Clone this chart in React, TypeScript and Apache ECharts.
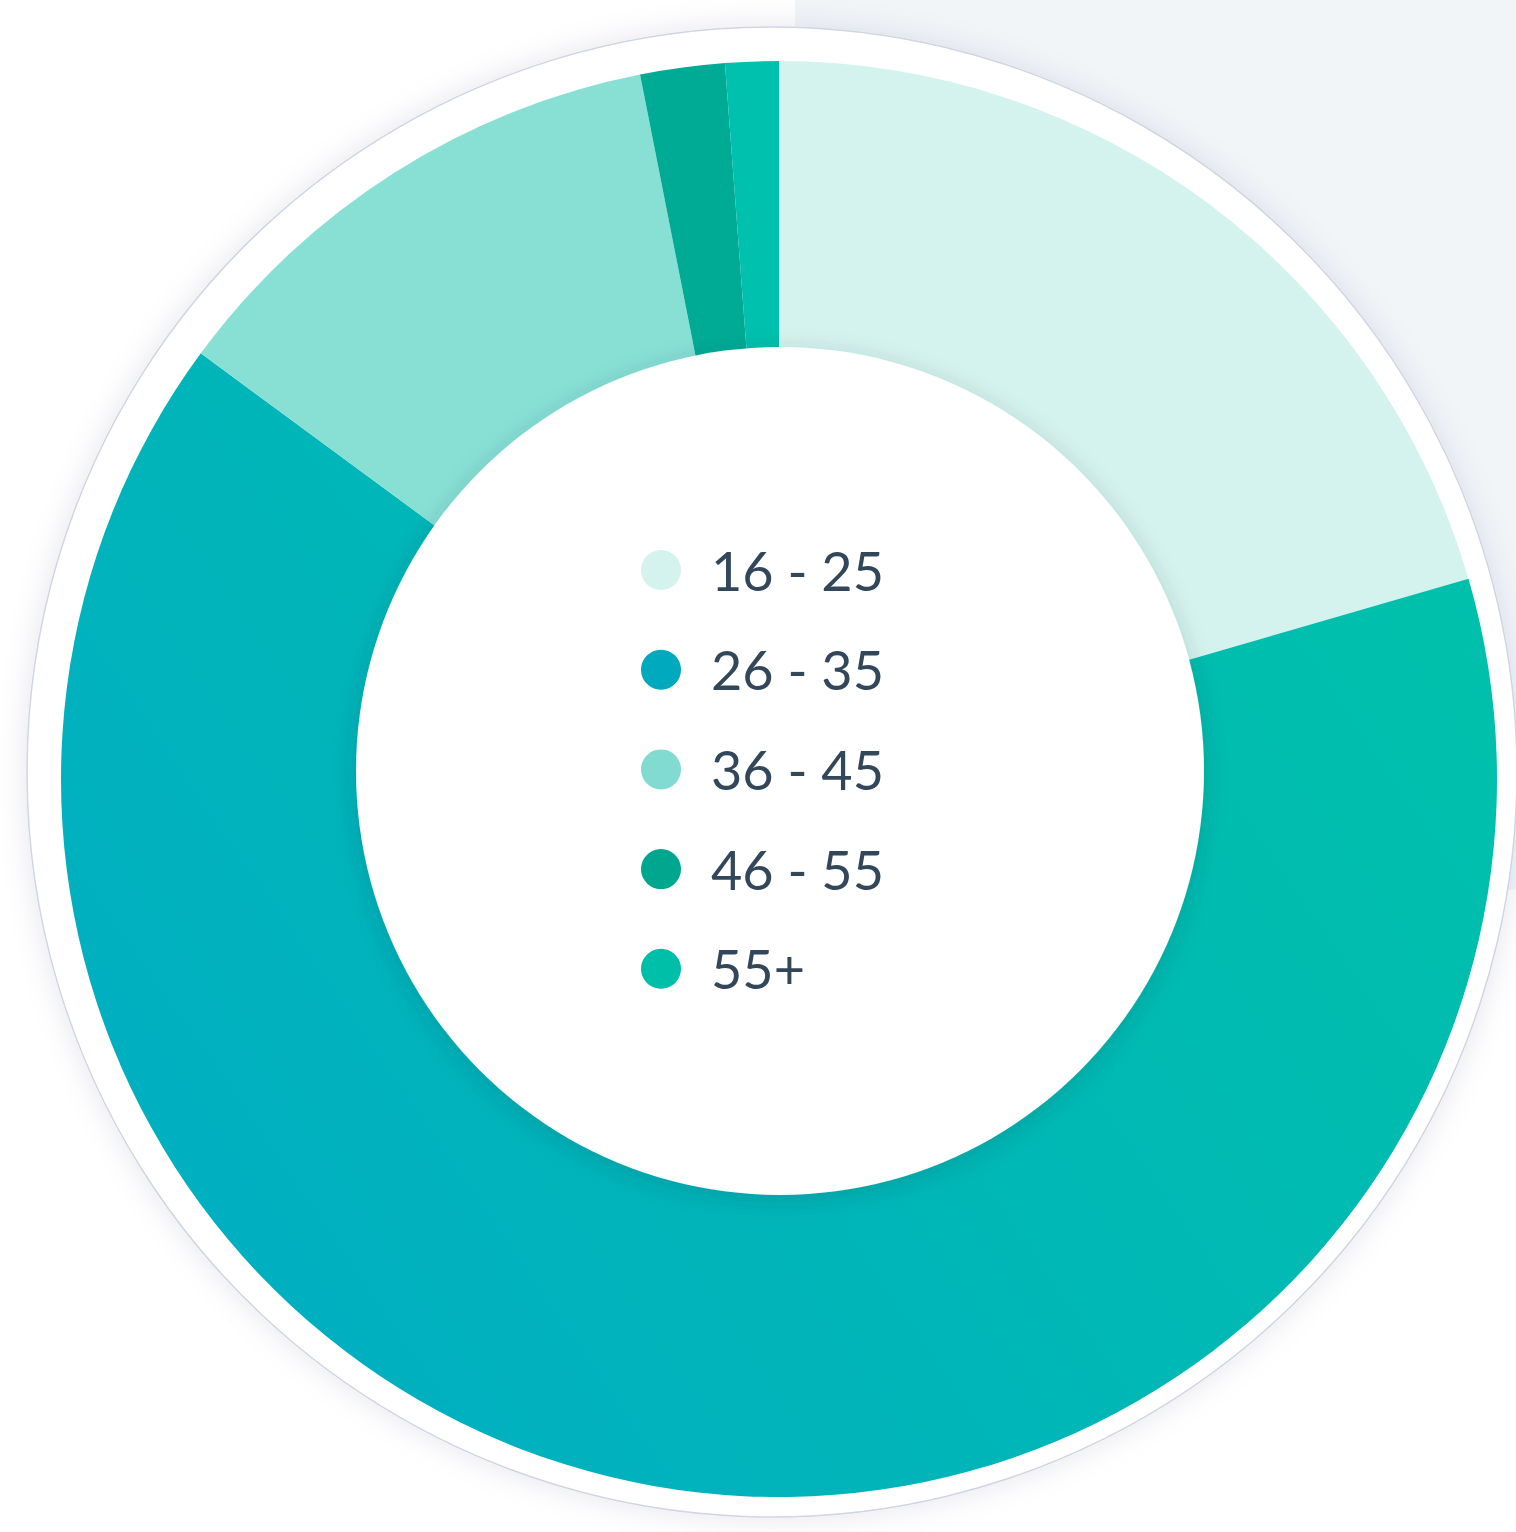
import React, { useEffect, useRef } from "react";
import * as echarts from "echarts";

const categories = ["16 - 25", "26 - 35", "36 - 45", "46 - 55", "55+"];
const shares = [20.5, 64.6, 11.8, 1.9, 1.2];
const sliceColors = ["#d5f3ee", "GRADIENT", "#88e0d5", "#00ab95", "#00c1ad"];
const legendColors = ["#d5f3ee", "#00a9bd", "#82dbd1", "#00a78f", "#00bfa8"];

export default function App() {
  const ref = useRef<HTMLDivElement>(null);
  useEffect(() => {
    if (!ref.current) return;
    const chart = echarts.init(ref.current, undefined, { renderer: "svg" });
    const grad = new echarts.graphic.LinearGradient(1, 0.3, 0, 0.85, [
      { offset: 0, color: "#00c0ab" },
      { offset: 1, color: "#00adc3" },
    ]);
    chart.setOption({
      animation: false,
      backgroundColor: "#ffffff",
      graphic: [
        {
          type: "rect",
          z: 0,
          shape: { x: 795, y: 0, width: 721, height: 890 },
          style: { fill: "#f2f5f8" },
        },
        {
          type: "circle",
          z: 1,
          shape: { cx: 772, cy: 772, r: 745 },
          style: {
            fill: "#ffffff",
            stroke: "#cfd6e2",
            lineWidth: 1.5,
            shadowBlur: 30,
            shadowColor: "rgba(40,60,90,0.10)",
          },
        },
        {
          type: "circle",
          z: 5,
          shape: { cx: 780, cy: 771, r: 424 },
          style: {
            fill: "#ffffff",
            shadowBlur: 22,
            shadowOffsetY: 4,
            shadowColor: "rgba(30,50,70,0.20)",
          },
        },
      ],
      legend: {
        orient: "vertical",
        left: 636,
        top: 538,
        z: 10,
        icon: "circle",
        itemWidth: 40,
        itemHeight: 40,
        itemGap: 45.7,
        selectedMode: false,
        textStyle: {
          fontFamily: "Lato",
          fontSize: 54,
          color: "#33475b",
          padding: [0, 0, 0, 25],
        },
        data: categories.map((n, i) => ({ name: n, itemStyle: { color: legendColors[i] } })),
      },
      series: [
        {
          type: "pie",
          z: 2,
          center: [779, 779],
          radius: [410, 718],
          startAngle: 90,
          clockwise: true,
          label: { show: false },
          labelLine: { show: false },
          emphasis: { disabled: true },
          itemStyle: { borderWidth: 0 },
          data: categories.map((n, i) => ({
            name: n,
            value: shares[i],
            itemStyle: { color: sliceColors[i] === "GRADIENT" ? grad : sliceColors[i] },
          })),
        },
      ],
    });
    return () => chart.dispose();
  }, []);
  return (
    <div
      ref={ref}
      style={{ position: "absolute", left: 0, top: 0, width: 1516, height: 1532 }}
    />
  );
}
